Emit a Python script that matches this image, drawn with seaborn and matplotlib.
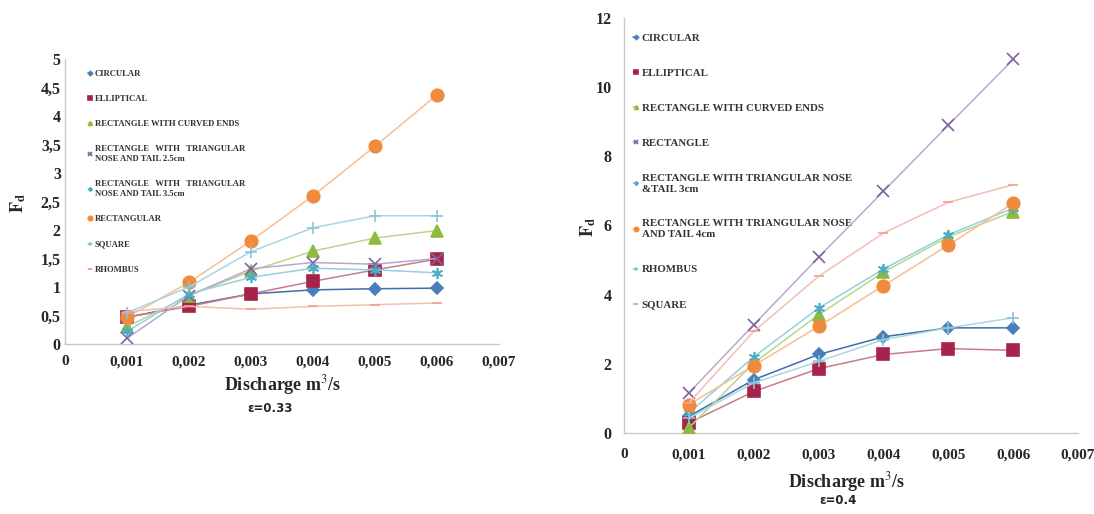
import numpy as np
import pandas as pd
import seaborn as sns
import matplotlib
matplotlib.use("Agg")
import matplotlib.pyplot as plt

# ---------------- data ----------------
discharge = [0.001, 0.002, 0.003, 0.004, 0.005, 0.006]

# left chart (epsilon = 0.33)
left_labels = [
    "CIRCULAR",
    "ELLIPTICAL",
    "RECTANGLE WITH CURVED ENDS",
    "RECTANGLE   WITH   TRIANGULAR\nNOSE AND TAIL 2.5cm",
    "RECTANGLE   WITH   TRIANGULAR\nNOSE AND TAIL 3.5cm",
    "RECTANGULAR",
    "SQUARE",
    "RHOMBUS",
]
left_circular = [0.47, 0.68, 0.88, 0.95, 0.97, 0.98]
left_elliptical = [0.47, 0.66, 0.88, 1.10, 1.30, 1.49]
left_curved = [0.30, 0.85, 1.28, 1.63, 1.86, 1.99]
left_tri25 = [0.10, 0.85, 1.32, 1.43, 1.40, 1.50]
left_tri35 = [0.22, 0.88, 1.17, 1.33, 1.30, 1.25]
left_rectangular = [0.47, 1.08, 1.81, 2.60, 3.47, 4.37]
left_square = [0.55, 1.00, 1.62, 2.04, 2.25, 2.25]
left_rhombus = [0.57, 0.66, 0.61, 0.66, 0.69, 0.72]
left_values = [left_circular, left_elliptical, left_curved, left_tri25,
               left_tri35, left_rectangular, left_square, left_rhombus]

# right chart (epsilon = 0.4)
right_labels = [
    "CIRCULAR",
    "ELLIPTICAL",
    "RECTANGLE WITH CURVED ENDS",
    "RECTANGLE",
    "RECTANGLE WITH TRIANGULAR NOSE\n&TAIL 3cm",
    "RECTANGLE WITH TRIANGULAR NOSE\nAND TAIL 4cm",
    "RHOMBUS",
    "SQUARE",
]
right_circular = [0.48, 1.54, 2.27, 2.78, 3.04, 3.04]
right_elliptical = [0.29, 1.20, 1.86, 2.27, 2.44, 2.39]
right_curved = [0.15, 2.02, 3.42, 4.65, 5.67, 6.40]
right_rectangle = [1.16, 3.13, 5.08, 6.99, 8.90, 10.80]
right_tri3 = [0.58, 2.20, 3.61, 4.74, 5.73, 6.50]
right_tri4 = [0.82, 1.95, 3.08, 4.26, 5.43, 6.65]
right_rhombus = [0.43, 1.45, 2.07, 2.70, 3.04, 3.33]
right_square = [0.87, 2.94, 4.53, 5.78, 6.67, 7.18]
right_values = [right_circular, right_elliptical, right_curved, right_rectangle,
                right_tri3, right_tri4, right_rhombus, right_square]

x_ticks = [0, 0.001, 0.002, 0.003, 0.004, 0.005, 0.006, 0.007]
x_tick_labels = ["0", "0,001", "0,002", "0,003", "0,004", "0,005", "0,006", "0,007"]
left_y_ticks = [0, 0.5, 1, 1.5, 2, 2.5, 3, 3.5, 4, 4.5, 5]
left_y_tick_labels = ["0", "0,5", "1", "1,5", "2", "2,5", "3", "3,5", "4", "4,5", "5"]
right_y_ticks = [0, 2, 4, 6, 8, 10, 12]
right_y_tick_labels = ["0", "2", "4", "6", "8", "10", "12"]

# ---------------- styles ----------------
marker_colors = ["#4A7EBB", "#A8234A", "#8DBB3F", "#7E649E",
                 "#4BACC6", "#F08A3C", "#8CC4D6", "#F0A090"]
line_colors = ["#3F6EA8", "#C77C8A", "#B9D68F", "#B9A9CC",
               "#93D0E0", "#F7BE94", "#A9D6E3", "#F3BFB3"]
markers = ["D", "s", "^", "x", (6, 2, 0), "o", "+", "_"]
msizes = [6, 8, 8, 9, 8, 9, 8, 7]

sns.set_theme(style="white")
plt.rcParams["font.family"] = ["Liberation Serif", "DejaVu Serif"]
plt.rcParams["mathtext.fontset"] = "stix"

fig = plt.figure(figsize=(10.94, 5.14), dpi=100)
axL = fig.add_axes([0.0594, 0.3307, 0.3967, 0.5545])
axR = fig.add_axes([0.5704, 0.1576, 0.4150, 0.8074])


def draw(ax, labels, values):
    for i, (lab, vals) in enumerate(zip(labels, values)):
        df = pd.DataFrame({"Q": discharge, "F": vals})
        sns.lineplot(data=df, x="Q", y="F", ax=ax, color=line_colors[i],
                     linewidth=1.1, marker=markers[i],
                     markersize=msizes[i],
                     markerfacecolor=marker_colors[i],
                     markeredgecolor=marker_colors[i],
                     markeredgewidth=1.2, label=lab, zorder=3 + i)


draw(axL, left_labels, left_values)
draw(axR, right_labels, right_values)

for ax, yt, ytl, ymax, xpad, ypad in [
        (axL, left_y_ticks, left_y_tick_labels, 5, 8, 3),
        (axR, right_y_ticks, right_y_tick_labels, 12, 11, 9)]:
    ax.set_xlim(0, 0.007)
    ax.set_ylim(0, ymax)
    ax.set_xticks(x_ticks)
    ax.set_xticklabels(x_tick_labels, fontweight="bold", fontsize=11)
    ax.set_yticks(yt)
    ax.set_yticklabels(ytl, fontweight="bold", fontsize=11.5)
    ax.tick_params(axis="x", length=0, pad=xpad)
    ax.tick_params(axis="y", length=0, pad=ypad)
    for s in ["top", "right"]:
        ax.spines[s].set_visible(False)
    for s in ["left", "bottom"]:
        ax.spines[s].set_color("#C8C8C8")
        ax.spines[s].set_linewidth(1.0)
    ax.set_xlabel("")
    ax.set_ylabel("")

# axis titles
fig.text(283 / 1094, 1 - 385 / 514, "Discharge m$^3$/s", ha="center", va="center",
         fontsize=13, fontweight="bold")
fig.text(270 / 1094, 1 - 408 / 514, "ε=0.33", ha="center", va="center",
         fontsize=8.5, fontweight="bold", family=["DejaVu Sans"])
fig.text(847 / 1094, 1 - 482 / 514, "Discharge m$^3$/s", ha="center", va="center",
         fontsize=13, fontweight="bold")
fig.text(838 / 1094, 1 - 500 / 514, "ε=0.4", ha="center", va="center",
         fontsize=8.5, fontweight="bold", family=["DejaVu Sans"])
fig.text(18 / 1094, 1 - 203 / 514, r"$\mathbf{F_d}$", rotation=90,
         ha="center", va="center", fontsize=13)
fig.text(588 / 1094, 1 - 227 / 514, r"$\mathbf{F_d}$", rotation=90,
         ha="center", va="center", fontsize=13)

legL = axL.legend(loc="upper left", bbox_to_anchor=(0.045, 0.975), frameon=False,
                  prop={"size": 6.2, "weight": "bold"}, labelspacing=2.0,
                  handlelength=0.5, handletextpad=0.3, markerscale=0.35,
                  borderaxespad=0)
legR = axR.legend(loc="upper left", bbox_to_anchor=(0.01, 0.973), frameon=False,
                  prop={"size": 7.8, "weight": "bold"}, labelspacing=2.35,
                  handlelength=0.5, handletextpad=0.3, markerscale=0.35,
                  borderaxespad=0)
for leg in (legL, legR):
    for t in leg.get_texts():
        t.set_color("#333333")
        t.set_linespacing(1.3)

fig.savefig("out.png", dpi=100)
